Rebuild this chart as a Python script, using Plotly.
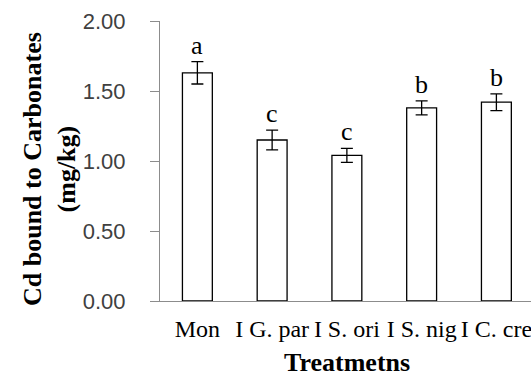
import plotly.graph_objects as go

categories = ["Mon", "I G. par", "I S. ori", "I S. nig", "I C. cre"]
means = [1.63, 1.15, 1.04, 1.38, 1.42]
errors = [0.08, 0.07, 0.05, 0.05, 0.06]
letters = ["a", "c", "c", "b", "b"]
y_ticks = [0, 0.5, 1.0, 1.5, 2.0]
y_ticklabels = ["0.00", "0.50", "1.00", "1.50", "2.00"]

fig = go.Figure()
fig.add_trace(go.Bar(
    x=categories, y=means,
    marker=dict(color="white", line=dict(color="black", width=1.3)),
    error_y=dict(type="data", array=errors, color="black", thickness=1.3, width=6),
    showlegend=False,
))

for c, m, e, l in zip(categories, means, errors, letters):
    fig.add_annotation(x=c, y=m + e, text=l, showarrow=False, yanchor="bottom",
                       yshift=0, font=dict(family="Liberation Serif", size=26, color="black"))

W = 371.0
fig.add_annotation(xref="paper", yref="paper", x=(49 - 160) / W, y=(301 - 169) / 280,
                   text="<b>Cd bound to Carbonates<br>(mg/kg)</b>", textangle=-90,
                   showarrow=False, xanchor="center", yanchor="middle",
                   font=dict(family="Liberation Serif", size=26, color="black"))
fig.add_annotation(xref="paper", yref="paper", x=(347 - 160) / W, y=(301 - 362) / 280,
                   text="<b>Treatmetns</b>", showarrow=False, xanchor="center", yanchor="middle",
                   font=dict(family="Liberation Serif", size=26, color="black"))

fig.update_layout(
    width=531, height=376,
    margin=dict(l=160, r=0, t=21, b=75),
    plot_bgcolor="white", paper_bgcolor="white",
    bargap=0.6,
    xaxis=dict(showline=True, linecolor="#8c8c8c", linewidth=1, ticks="",
               range=[-0.5, 4.463],
               tickfont=dict(family="Liberation Serif", size=24, color="black"),
               ticklabelstandoff=6, showgrid=False),
    yaxis=dict(range=[0, 2], tickvals=y_ticks, ticktext=y_ticklabels,
               showline=True, linecolor="#8c8c8c", linewidth=1, ticks="outside",
               ticklen=9, tickcolor="#8c8c8c", showgrid=False, zeroline=False,
               tickfont=dict(family="Liberation Sans", size=22, color="#404040"),
               ticklabelstandoff=20),
)
fig.write_html("out.html", config={"displayModeBar": False},
               post_script="document.body.style.margin='0';")
